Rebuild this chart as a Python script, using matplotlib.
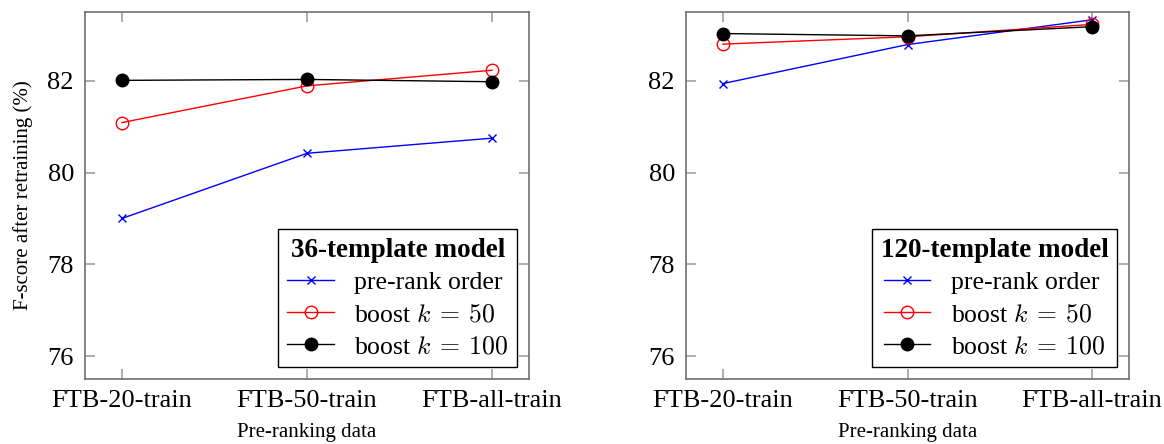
import numpy as np
import matplotlib
matplotlib.use('Agg')
import matplotlib.pyplot as plt

plt.rcParams['font.family'] = 'Liberation Serif'
plt.rcParams['mathtext.fontset'] = 'cm'

categorias = ['FTB-20-train', 'FTB-50-train', 'FTB-all-train']

# 36-template model
m36_prerank = [79.00, 80.42, 80.75]
m36_k50 = [81.09, 81.89, 82.23]
m36_k100 = [82.01, 82.03, 81.98]

# 120-template model
m120_prerank = [81.94, 82.79, 83.33]
m120_k50 = [82.80, 82.96, 83.23]
m120_k100 = [83.03, 82.98, 83.18]

titulos = ['36-template model', '120-template model']
series = [(m36_prerank, m36_k50, m36_k100), (m120_prerank, m120_k50, m120_k100)]
etiquetas = ['pre-rank order', r'boost $k\:=\:50$', r'boost $k\:=\:100$']

fig = plt.figure(figsize=(11.64, 4.44), dpi=100)
posiciones = [[85/1164, 1 - 379/444, 444/1164, 367/444],
              [686/1164, 1 - 379/444, 443/1164, 367/444]]

x = np.arange(len(categorias))
for i in range(2):
    ax = fig.add_axes(posiciones[i])
    pre, k50, k100 = series[i]
    ax.plot(x, pre, color='blue', marker='x', markersize=6, linewidth=1, label=etiquetas[0])
    ax.plot(x, k50, color='red', marker='o', markersize=9, markerfacecolor='none',
            linewidth=1, label=etiquetas[1])
    ax.plot(x, k100, color='black', marker='o', markersize=9, linewidth=1, label=etiquetas[2])
    ax.set_xlim(-0.2, 2.2)
    ax.set_ylim(75.5, 83.5)
    ax.set_xticks(x)
    ax.set_xticklabels(categorias, fontsize=19)
    ax.set_yticks([76, 78, 80, 82])
    ax.tick_params(axis='y', labelsize=19, pad=8)
    ax.tick_params(axis='x', pad=8)
    ax.tick_params(direction='in', top=True, right=True, length=7, color='#a0a0a0', width=1.2)
    for s in ax.spines.values():
        s.set_color('#707070')
        s.set_linewidth(1.2)
    ax.set_xlabel('Pre-ranking data', fontsize=15, labelpad=8)
    if i == 0:
        ax.set_ylabel('F-score after retraining (%)', fontsize=15, labelpad=10)
    leg = ax.legend(loc='lower right', fontsize=18.5, title=titulos[i], fancybox=False,
                    edgecolor='black', framealpha=1, borderaxespad=0.45,
                    handlelength=1.8, handletextpad=0.8, labelspacing=0.35,
                    borderpad=0.35)
    leg.get_title().set_fontweight('bold')
    leg.get_title().set_fontsize(19.5)
    leg.get_frame().set_linewidth(1)

fig.savefig('out.png', dpi=100)
